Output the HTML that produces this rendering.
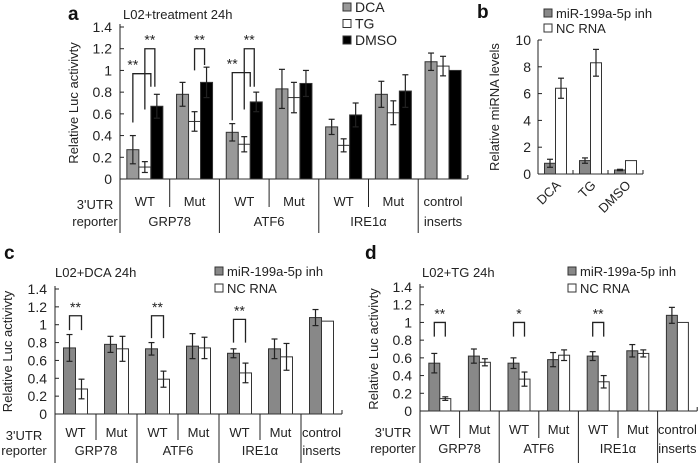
<!DOCTYPE html>
<html><head><meta charset="utf-8">
<style>
html,body{margin:0;padding:0;background:#fff;}
svg{display:block;font-family:"Liberation Sans",Arial,sans-serif;}
</style></head>
<body>
<svg id="fig" width="700" height="463" viewBox="0 0 700 463"></svg>
<script>
// ---- Panel a data ----
const aDCA=[0.27,0.78,0.43,0.83,0.48,0.78,1.08];
const aDCAerr=[0.13,0.11,0.08,0.18,0.07,0.12,0.08];
const aTG=[0.11,0.53,0.32,0.75,0.31,0.61,1.04];
const aTGerr=[0.05,0.09,0.07,0.14,0.06,0.11,0.09];
const aDMSO=[0.67,0.89,0.71,0.88,0.59,0.81,1.0];
const aDMSOerr=[0.11,0.14,0.09,0.12,0.11,0.15,0];
// ---- Panel b data ----
const bCats=["DCA","TG","DMSO"];
const bInh=[0.8,1.0,0.3];
const bInhErr=[0.3,0.2,0.05];
const bNC=[6.4,8.3,1.0];
const bNCErr=[0.75,1.0,0];
const bTicks=[0,2,4,6,8,10];
// ---- Panel c data ----
const cInh=[0.74,0.78,0.73,0.76,0.68,0.73,1.08];
const cInhErr=[0.15,0.09,0.07,0.14,0.05,0.11,0.09];
const cNC=[0.28,0.73,0.39,0.74,0.46,0.64,1.04];
const cNCErr=[0.11,0.14,0.09,0.12,0.11,0.15,0];
// ---- Panel d data ----
const dInh=[0.54,0.62,0.54,0.58,0.62,0.68,1.08];
const dInhErr=[0.11,0.08,0.06,0.08,0.05,0.07,0.09];
const dNC=[0.14,0.55,0.36,0.63,0.33,0.65,1.0];
const dNCErr=[0.02,0.04,0.08,0.06,0.07,0.04,0];
const lucTicks=[0,0.2,0.4,0.6,0.8,1,1.2,1.4];
const subLabels=["WT","Mut","WT","Mut","WT","Mut"];
const genes=["GRP78","ATF6","IRE1α"];

const NS="http://www.w3.org/2000/svg";
const svg=document.getElementById('fig');
function mk(tag,attrs,parent,text){const e=document.createElementNS(NS,tag);for(const k in attrs)e.setAttribute(k,attrs[k]);if(text!==undefined)e.textContent=text;(parent||svg).appendChild(e);return e;}
function line(g,x1,y1,x2,y2,w){return mk('line',{x1,y1,x2,y2,stroke:'#222','stroke-width':w||1},g);}

function lucPanel(P){
  const g=mk('g',{});
  
  
  const sy=v=>P.y0-(v/1.4)*(P.y0-P.yTop);
  const gx=i=>P.x0+i*P.gw;
  const L=mk('text',{x:P.lx,y:P.ly,'font-size':19,'font-weight':'bold',fill:'#111'},g,P.letter);
  
  const T=mk('text',{x:P.tx,y:P.ty,'font-size':13,fill:'#222'},g,P.title);
  
  P.series.forEach((s,k)=>{
    const ly=P.legY+k*P.legDy;
    const r=mk('rect',{x:P.legX,y:ly-5,width:8,height:8,fill:s.fill,stroke:'#333','stroke-width':1},g);
    
    const t=mk('text',{x:P.legX+12,y:ly+4,'font-size':P.legFs,fill:'#222'},g,s.label);
    
  });
  line(g,P.x0,P.yTop-3,P.x0,P.y0);
  lucTicks.forEach(v=>{
    line(g,P.x0,sy(v),P.x0+4,sy(v));
    const t=mk('text',{x:P.x0-8,y:sy(v)+5,'font-size':14,'text-anchor':'end',fill:'#222'},g,String(v));
    
  });
  const yt=mk('text',{x:0,y:0,'font-size':13,'text-anchor':'middle',fill:'#222',transform:`translate(${P.ytX},${(P.y0+P.yTop)/2}) rotate(-90)`},g,'Relative Luc activivty');
  
  line(g,P.x0,P.y0,gx(7),P.y0);
  line(g,gx(7),P.y0,gx(7),P.y0-4);
  for(let i=0;i<7;i++){
    const major=(i%2===0);
    line(g,gx(i),P.y0,gx(i),major?P.yBot:P.yMid);
  }
  const n=P.series.length;const bw=P.bw;
  for(let i=0;i<7;i++){
    const start=gx(i)+(P.gw-n*bw)/2;
    P.series.forEach((s,k)=>{
      const v=s.vals[i],e=s.errs[i];const x=start+k*bw;
      const r=mk('rect',{x:x,y:sy(v),width:bw,height:P.y0-sy(v),fill:s.fill,stroke:'#333','stroke-width':1},g);
      
      if(e>0){const cx=x+bw/2;line(g,cx,sy(v-e),cx,sy(v+e),1.2);line(g,cx-3,sy(v+e),cx+3,sy(v+e),1.2);line(g,cx-3,sy(v-e),cx+3,sy(v-e),1.2);}
    });
  }
  subLabels.forEach((s,i)=>{const t=mk('text',{x:gx(i)+P.gw/2,y:P.subY,'font-size':13,'text-anchor':'middle',fill:'#222'},g,s);});
  genes.forEach((s,i)=>{const t=mk('text',{x:gx(2*i+1),y:P.geneY,'font-size':13,'text-anchor':'middle',fill:'#222'},g,s);});
  const c1=mk('text',{x:gx(6)+P.gw/2,y:P.subY,'font-size':13,'text-anchor':'middle',fill:'#222'},g,'control');
  const c2=mk('text',{x:gx(6)+P.gw/2,y:P.geneY,'font-size':13,'text-anchor':'middle',fill:'#222'},g,'inserts');
  const r1=mk('text',{x:P.repX,y:P.subY+3,'font-size':13,'text-anchor':'middle',fill:'#222'},g,"3'UTR");
  const r2=mk('text',{x:P.repX,y:P.geneY,'font-size':13,'text-anchor':'middle',fill:'#222'},g,'reporter');
  P.brackets.forEach(b=>{
    const start=gx(b[0])+(P.gw-n*bw)/2;
    const xa=start+b[1]*bw+bw/2+(b[7]||0), xb=start+b[4]*bw+bw/2+(b[8]||0);
    const p=mk('polyline',{points:`${xa},${sy(b[2])} ${xa},${sy(b[3])} ${xb},${sy(b[3])} ${xb},${sy(b[5])}`,fill:'none',stroke:'#222','stroke-width':1.3},g);
    
    const sx=b[9]==='left'?xa:(xa+xb)/2;
    const t=mk('text',{x:sx,y:sy(b[3])-4,'font-size':14,'text-anchor':'middle',fill:'#222'},g,b[6]);
    
  });
}

lucPanel({name:'panel-a',letter:'a',lx:68,ly:20,title:'L02+treatment  24h',tx:123,ty:19,
  x0:120,y0:179,yTop:27,gw:49.7,bw:12,yMid:207,yBot:233,subY:206,geneY:226,repX:95,ytX:78,
  legX:343,legY:8,legDy:16.5,legFs:14,
  series:[{key:'dca',label:'DCA',fill:'#999',vals:aDCA,errs:aDCAerr},{key:'tg',label:'TG',fill:'#fff',vals:aTG,errs:aTGerr},{key:'dmso',label:'DMSO',fill:'#000',vals:aDMSO,errs:aDMSOerr}],
  brackets:[[0,0,0.52,0.97,2,0.85,'**',0,-6,'left'],[0,1,0.64,1.2,2,0.85,'**',0,-2],[1,1,1.0,1.2,2,1.05,'**',0,-2],[2,0,0.54,0.98,2,0.85,'**',0,-6,'left'],[2,1,0.64,1.2,2,0.85,'**',0,-2]]});

lucPanel({name:'panel-c',letter:'c',lx:4,ly:259,title:'L02+DCA 24h',tx:55,ty:277,
  x0:55,y0:414,yTop:289,gw:41,bw:12,yMid:440,yBot:463,subY:437,geneY:455,repX:24,ytX:12,
  legX:215,legY:272,legDy:17,legFs:13,
  series:[{key:'inh',label:'miR-199a-5p inh',fill:'#888',vals:cInh,errs:cInhErr},{key:'nc',label:'NC RNA',fill:'#fff',vals:cNC,errs:cNCErr}],
  brackets:[[0,0,0.94,1.1,1,0.94,'**'],[2,0,0.85,1.1,1,0.85,'**'],[4,0,0.8,1.06,1,0.8,'**']]});

lucPanel({name:'panel-d',letter:'d',lx:365,ly:259,title:'L02+TG 24h',tx:422,ty:277,
  x0:420,y0:411,yTop:287,gw:39.6,bw:11,yMid:438,yBot:463,subY:434,geneY:453,repX:393,ytX:378,
  legX:568,legY:272,legDy:17,legFs:13,
  series:[{key:'inh',label:'miR-199a-5p inh',fill:'#888',vals:dInh,errs:dInhErr},{key:'nc',label:'NC RNA',fill:'#fff',vals:dNC,errs:dNCErr}],
  brackets:[[0,0,0.84,1.0,1,0.84,'**'],[2,0,0.84,1.0,1,0.84,'*'],[4,0,0.84,1.0,1,0.84,'**']]});

(function(){
  const g=mk('g',{});
  
  
  const x0=538,y0=174,yTop=40,gw=35,bw=11;
  const sy=v=>y0-(v/10)*(y0-yTop);
  const L=mk('text',{x:477,y:18,'font-size':19,'font-weight':'bold',fill:'#111'},g,'b');
  [['miR-199a-5p inh','#888'],['NC RNA','#fff']].forEach((s,k)=>{
    const ly=14+k*15;
    const r=mk('rect',{x:544,y:ly-5,width:8,height:8,fill:s[1],stroke:'#333'},g);
    const t=mk('text',{x:556,y:ly+4,'font-size':13,fill:'#222'},g,s[0]);
  });
  line(g,x0,yTop,x0,y0);
  bTicks.forEach(v=>{line(g,x0,sy(v),x0+4,sy(v));const t=mk('text',{x:x0-7,y:sy(v)+5,'font-size':14,'text-anchor':'end',fill:'#222'},g,String(v));});
  const yt=mk('text',{x:0,y:0,'font-size':13,'text-anchor':'middle',fill:'#222',transform:`translate(${499},${(y0+yTop)/2}) rotate(-90)`},g,'Relative miRNA levels');
  line(g,x0,y0,x0+3*gw,y0);
  for(let i=1;i<=3;i++)line(g,x0+i*gw,y0,x0+i*gw,y0-4);
  bCats.forEach((c,i)=>{
    const start=x0+i*gw+(gw-2*bw)/2;
    [[bInh,bInhErr,'#888','inh'],[bNC,bNCErr,'#fff','nc']].forEach((s,k)=>{
      const v=s[0][i],e=s[1][i],x=start+k*bw;
      const r=mk('rect',{x:x,y:sy(v),width:bw,height:y0-sy(v),fill:s[2],stroke:'#333'},g);
      
      if(e>0){const cx=x+bw/2;line(g,cx,sy(v-e),cx,sy(v+e),1.2);line(g,cx-3,sy(v+e),cx+3,sy(v+e),1.2);line(g,cx-3,sy(v-e),cx+3,sy(v-e),1.2);}
    });
    const cx=x0+i*gw+gw/2+6;
    const t=mk('text',{x:0,y:0,'font-size':13,'text-anchor':'end',fill:'#222',transform:`translate(${cx},${y0+12}) rotate(-45)`},g,c);
    
  });
})();
</script>
</body></html>
